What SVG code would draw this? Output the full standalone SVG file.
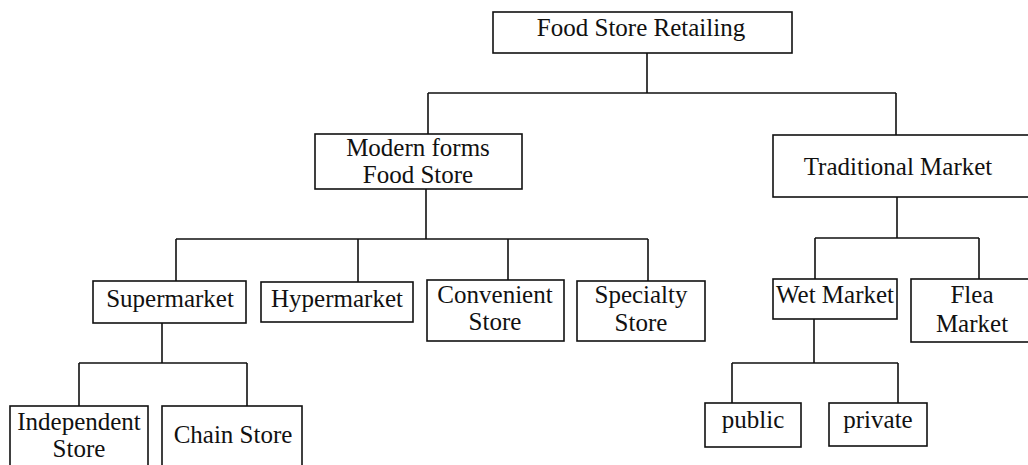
<svg xmlns="http://www.w3.org/2000/svg" width="1028" height="465" viewBox="0 0 1028 465">
  <style>
    .box { fill: #ffffff; stroke: #111111; stroke-width: 1.6; }
    .link { fill: none; stroke: #111111; stroke-width: 1.6; }
    .label { font-family: "Liberation Serif", "Times New Roman", serif; font-size: 25px; fill: #111111; text-anchor: middle; }
  </style>
  <rect width="1028" height="465" fill="#ffffff"/>

  <!-- connectors -->
  <g id="connectors" class="link">
    <path d="M647 53 V93 M428 93 H896 M428 93 V134 M896 93 V135"/>
    <path d="M426 189 V239 M176 239 H648 M176 239 V281 M358 239 V282 M508 239 V280 M648 239 V281"/>
    <path d="M897 197 V238 M815 238 H979 M815 238 V279 M979 238 V279"/>
    <path d="M162 323 V363 M79 363 H247 M79 363 V406 M247 363 V406"/>
    <path d="M814 319 V363 M732 363 H898 M732 363 V403 M898 363 V403"/>
  </g>

  <!-- nodes -->
  <g id="food-store-retailing">
    <rect class="box" x="493" y="12" width="299" height="41"/>
    <text class="label" x="641" y="36">Food Store Retailing</text>
  </g>
  <g id="modern-forms">
    <rect class="box" x="315" y="134" width="207" height="55"/>
    <text class="label" x="418" y="156">Modern forms</text>
    <text class="label" x="418" y="183">Food Store</text>
  </g>
  <g id="traditional-market">
    <rect class="box" x="773" y="135" width="262" height="62"/>
    <text class="label" x="898" y="175">Traditional Market</text>
  </g>
  <g id="supermarket">
    <rect class="box" x="93" y="281" width="153" height="42"/>
    <text class="label" x="170" y="307">Supermarket</text>
  </g>
  <g id="hypermarket">
    <rect class="box" x="261" y="282" width="152" height="40"/>
    <text class="label" x="337" y="307">Hypermarket</text>
  </g>
  <g id="convenient-store">
    <rect class="box" x="427" y="280" width="137" height="61"/>
    <text class="label" x="495" y="303">Convenient</text>
    <text class="label" x="495" y="330">Store</text>
  </g>
  <g id="specialty-store">
    <rect class="box" x="577" y="281" width="128" height="60"/>
    <text class="label" x="641" y="303">Specialty</text>
    <text class="label" x="641" y="331">Store</text>
  </g>
  <g id="wet-market">
    <rect class="box" x="773" y="279" width="124" height="40"/>
    <text class="label" x="835" y="303">Wet Market</text>
  </g>
  <g id="flea-market">
    <rect class="box" x="911" y="279" width="124" height="63"/>
    <text class="label" x="972" y="303">Flea</text>
    <text class="label" x="972" y="332">Market</text>
  </g>
  <g id="independent-store">
    <rect class="box" x="10" y="406" width="138" height="70"/>
    <text class="label" x="79" y="430">Independent</text>
    <text class="label" x="79" y="457">Store</text>
  </g>
  <g id="chain-store">
    <rect class="box" x="162" y="406" width="140" height="70"/>
    <text class="label" x="233" y="443">Chain Store</text>
  </g>
  <g id="public">
    <rect class="box" x="705" y="403" width="96" height="44"/>
    <text class="label" x="753" y="428">public</text>
  </g>
  <g id="private">
    <rect class="box" x="829" y="403" width="98" height="43"/>
    <text class="label" x="878" y="428">private</text>
  </g>
</svg>
